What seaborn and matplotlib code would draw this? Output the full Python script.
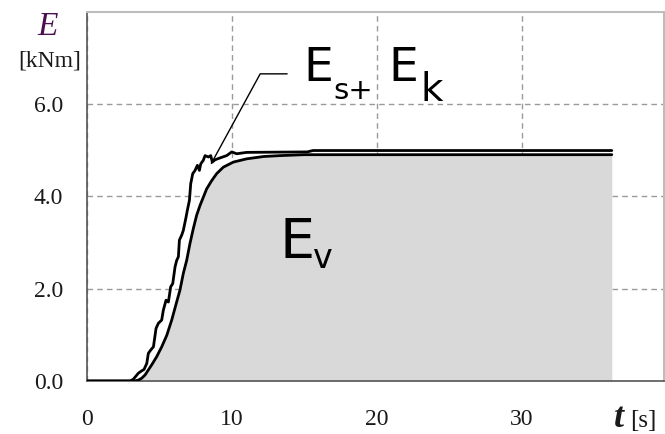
import matplotlib
matplotlib.use("Agg")
import matplotlib.pyplot as plt
import seaborn as sns
import pandas as pd

# Es + Ek (upper curve)
t_upper = [0.0, 3.0, 3.22, 3.56, 3.79, 3.95, 4.14, 4.25, 4.41, 4.60, 4.78, 4.94, 5.17, 5.28,
           5.47, 5.63, 5.79, 5.93, 6.09, 6.20, 6.32, 6.39, 6.55, 6.66, 6.85, 6.94, 7.08,
           7.17, 7.31, 7.47, 7.63, 7.77, 7.86, 8.04, 8.16, 8.39, 8.55, 8.66, 8.85, 9.19,
           9.65, 10.0, 10.34, 11.03, 15.2, 15.6, 36.2]
e_upper = [0.0, 0.0, 0.04, 0.17, 0.22, 0.25, 0.38, 0.60, 0.67, 0.74, 1.14, 1.25, 1.32, 1.53,
           1.75, 1.71, 2.04, 2.11, 2.47, 2.61, 2.69, 3.05, 3.16, 3.26, 3.55, 3.70, 3.91,
           4.27, 4.49, 4.56, 4.67, 4.56, 4.70, 4.78, 4.88, 4.85, 4.88, 4.74, 4.79, 4.83,
           4.88, 4.96, 4.92, 4.95, 4.96, 4.99, 4.99]

# Ev (lower, filled curve)
t_lower = [0.0, 3.3, 3.56, 3.79, 4.02, 4.25, 4.48, 4.83, 5.17, 5.52, 5.86, 6.20, 6.43, 6.66,
           6.89, 7.12, 7.35, 7.58, 7.81, 8.04, 8.27, 8.62, 8.96, 9.42, 10.11, 11.03, 12.18,
           13.33, 15.0, 36.2]
e_lower = [0.0, 0.0, 0.02, 0.06, 0.13, 0.24, 0.35, 0.53, 0.74, 0.99, 1.32, 1.71, 1.97, 2.33,
           2.61, 2.98, 3.30, 3.59, 3.80, 3.98, 4.16, 4.34, 4.49, 4.63, 4.74, 4.81, 4.86,
           4.88, 4.90, 4.90]

x_ticks = [0, 10, 20, 30]
y_ticks = [0.0, 2.0, 4.0, 6.0]
y_tick_labels = ["0.0", "2.0", "4.0", "6.0"]

sns.set_style("white")
plt.rcParams["font.family"] = ["Liberation Serif", "DejaVu Serif"]

fig = plt.figure(figsize=(6.65, 4.34), dpi=100)
ax = fig.add_axes([0.1304, 0.1221, 0.8681, 0.8514])

df_u = pd.DataFrame({"t": t_upper, "E": e_upper})
df_l = pd.DataFrame({"t": t_lower, "E": e_lower})

ax.fill_between(df_l["t"], 0, df_l["E"], color="#d9d9d9", lw=0, zorder=1)
sns.lineplot(data=df_l, x="t", y="E", ax=ax, color="black", lw=2.0, sort=False, zorder=3)
sns.lineplot(data=df_u, x="t", y="E", ax=ax, color="black", lw=2.0, sort=False, zorder=3)

ax.set_xlim(0, 39.8)
ax.set_ylim(0, 8.0)
ax.set_xticks(x_ticks)
ax.set_yticks(y_ticks)
ax.set_yticklabels(y_tick_labels)
ax.set_xlabel("")
ax.set_ylabel("")

ax.grid(True, color="#9a9a9a", linestyle=(0, (4, 3)), lw=1.0, zorder=0)
ax.set_axisbelow(True)

for s in ["left", "bottom"]:
    ax.spines[s].set_color("#555555")
    ax.spines[s].set_linewidth(1.2)
for s in ["top", "right"]:
    ax.spines[s].set_color("#bdbdbd")
    ax.spines[s].set_linewidth(1.5)

ax.tick_params(axis="both", direction="inout", length=8, width=1, color="#555555",
               labelsize=17, labelcolor="#1a1a1a")
ax.tick_params(axis="x", pad=16)
ax.tick_params(axis="y", pad=13)

# leader line
ax.plot([8.59, 11.96, 13.82], [4.71, 6.65, 6.65], color="black", lw=1.0, zorder=4)

sans = ["DejaVu Sans"]
ax.text(14.92, 6.50, "E", fontsize=34, family=sans, color="black", zorder=5)
ax.text(16.99, 6.11, "s+", fontsize=21, family=sans, color="black", zorder=5)
ax.text(20.78, 6.50, "E", fontsize=34, family=sans, color="black", zorder=5)
ax.text(22.99, 6.07, "k", fontsize=28, family=sans, color="black", zorder=5)
ax.text(13.3, 2.66, "E", fontsize=40, family=sans, color="black", zorder=5)
ax.text(15.6, 2.44, "v", fontsize=24, family=sans, color="black", zorder=5)

# axis labels
fig.text(48 / 665, 1 - 35 / 434, "E", fontsize=24, style="italic", color="#4b1050",
         ha="center", va="baseline")
fig.text(49.5 / 665, 1 - 67 / 434, "[kNm]", fontsize=17, color="#1a1a1a",
         ha="center", va="baseline")
fig.text(614 / 665, 1 - 427 / 434, "t", fontsize=26, style="italic", weight="bold",
         color="#1a1a1a", ha="left", va="baseline")
fig.text(630 / 665, 1 - 427 / 434, "[s]", fontsize=18, color="#1a1a1a",
         ha="left", va="baseline")

fig.savefig("out.png", dpi=100)
